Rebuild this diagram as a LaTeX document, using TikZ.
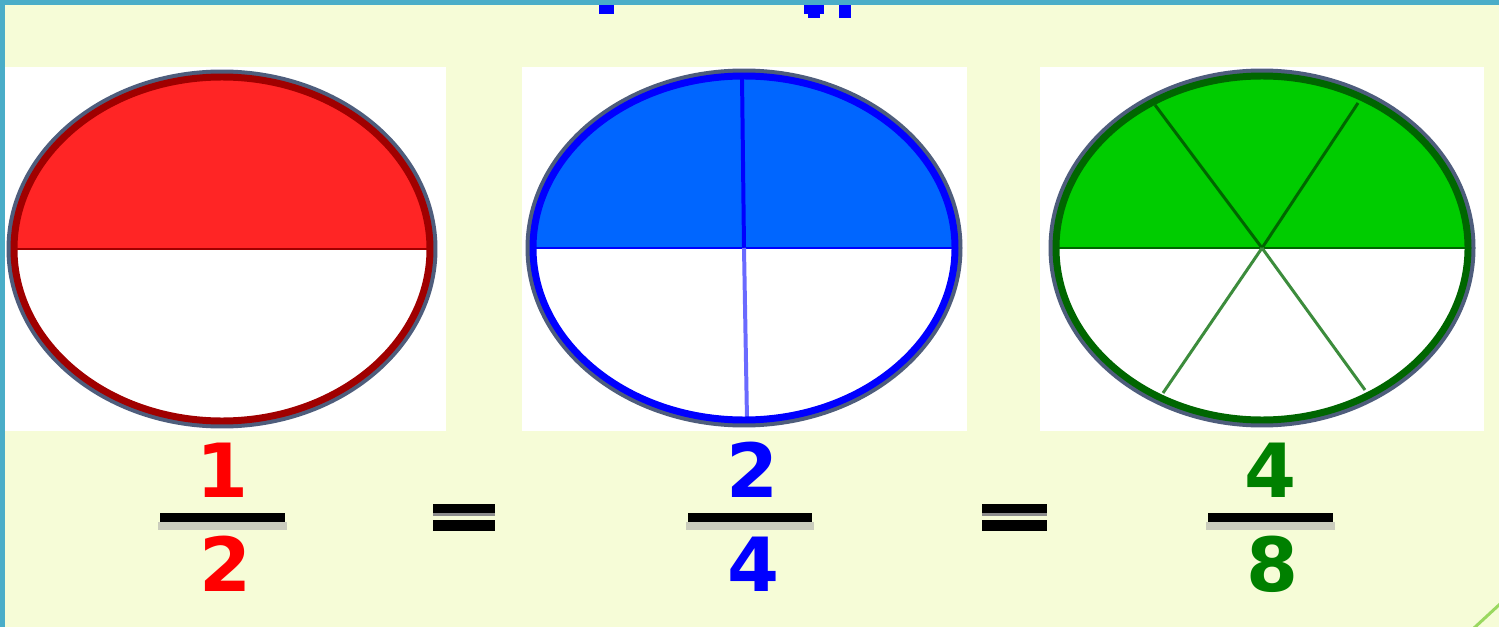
\documentclass[tikz,border=0pt]{standalone}
\usepackage{fontspec}
\usetikzlibrary{calc}
\setmainfont{DejaVu Sans}
\definecolor{bgy}{HTML}{F6FCD7}
\definecolor{teal}{HTML}{4AADC8}
\definecolor{halo}{HTML}{4E5D7C}
\definecolor{redfill}{HTML}{FF2525}
\definecolor{redline}{HTML}{A00000}
\definecolor{bluefill}{HTML}{0066FF}
\definecolor{blueline}{HTML}{0000FF}
\definecolor{bluelight}{HTML}{6A6AFF}
\definecolor{greenfill}{HTML}{00CC00}
\definecolor{greenline}{HTML}{006600}
\definecolor{greenlight}{HTML}{3C8C3C}
\definecolor{digred}{HTML}{FF0000}
\definecolor{digblue}{HTML}{0000FF}
\definecolor{diggreen}{HTML}{008000}
\definecolor{corner}{HTML}{9AD860}
\tikzset{
  digit/.style={inner sep=0pt, font=\fontsize{75}{75}\selectfont\bfseries},
  panel/.style={fill=white, draw=none},
  barshadow/.style={fill=black!35, opacity=0.55},
}
\begin{document}
\begin{tikzpicture}[x=1bp,y=-1bp]
\useasboundingbox (0,0) rectangle (1499,627);
\fill[bgy] (0,0) rectangle (1499,627);
\fill[teal] (0,0) rectangle (1499,5);
\fill[teal] (0,0) rectangle (5,627);
% cut-off blue fragments at top
\fill[blueline] (599,5) rectangle (614,14);
\fill[blueline] (804,5) rectangle (824,14);
\fill[blueline] (808,14) rectangle (820,18);
\fill[blueline] (839,5) rectangle (851,18);
% corner mark
\draw[corner, line width=3] (1474,628) -- (1500,604);
% panels
\fill[panel] (5,67) rectangle (446,431);
\fill[panel] (522,67) rectangle (967,431);
\fill[panel] (1040,67) rectangle (1484,431);

% ---- red circle 1/2
\coordinate (rc) at (222,249);
\fill[redfill] ($(rc)+(-208,0)$) arc[start angle=180, end angle=360, x radius=208, y radius=172] -- cycle;
\draw[halo, line width=5] (rc) ellipse[x radius=213, y radius=177];
\draw[redline, line width=3] ($(rc)+(-208,0)$) -- ($(rc)+(208,0)$);
\draw[redline, line width=7] (rc) ellipse[x radius=208, y radius=172];

% ---- blue circle 2/4
\coordinate (bc) at (744,248);
\fill[bluefill] ($(bc)+(-211,0)$) arc[start angle=180, end angle=360, x radius=211, y radius=172] -- cycle;
\draw[halo, line width=5] (bc) ellipse[x radius=216, y radius=177];
\draw[blueline, line width=3] ($(bc)+(-211,0)$) -- ($(bc)+(211,0)$);
\coordinate (bt) at (742,76);
\coordinate (bb) at (747,420);
\draw[blueline, line width=4] (bt) -- (bc);
\draw[bluelight, line width=4] (bc) -- (bb);
\draw[blueline, line width=7] (bc) ellipse[x radius=211, y radius=172];

% ---- green circle 4/8
\coordinate (gc) at (1262,248);
\fill[greenfill] ($(gc)+(-206,0)$) arc[start angle=180, end angle=360, x radius=206, y radius=172] -- cycle;
\draw[halo, line width=5] (gc) ellipse[x radius=211, y radius=177];
\draw[greenline, line width=3] ($(gc)+(-206,0)$) -- ($(gc)+(206,0)$);
\coordinate (g1) at (1155,105);
\coordinate (g2) at (1358,103);
\coordinate (g3) at (1163,393);
\coordinate (g4) at (1365,390);
\draw[greenline, line width=3] (gc) -- (g1);
\draw[greenline, line width=3] (gc) -- (g2);
\draw[greenlight, line width=3] (gc) -- (g3);
\draw[greenlight, line width=3] (gc) -- (g4);
\draw[greenline, line width=7] (gc) ellipse[x radius=206, y radius=172];

% ---- fractions
\node[digit, text=digred] (n1) at (222,470) {1};
\fill[barshadow] (158,522) rectangle (287,530);
\fill[black] (160,513) rectangle (285,522);
\node[digit, text=digred] (d1) at (225,564) {2};

\node[digit, text=digblue] (n2) at (752,470) {2};
\fill[barshadow] (686,522) rectangle (814,530);
\fill[black] (688,513) rectangle (812,522);
\node[digit, text=digblue] (d2) at (753,564) {4};

\node[digit, text=diggreen] (n3) at (1270,470) {4};
\fill[barshadow] (1206,522) rectangle (1335,530);
\fill[black] (1208,513) rectangle (1333,522);
\node[digit, text=diggreen] (d3) at (1272,564) {8};

% ---- equals signs
\fill[black] (433,504) rectangle (495,513);
\fill[black!45] (433,513) rectangle (495,516);
\fill[black] (433,520) rectangle (495,531);
\fill[black] (982,504) rectangle (1047,513);
\fill[black!45] (982,513) rectangle (1047,516);
\fill[black] (982,520) rectangle (1047,531);
\end{tikzpicture}
\end{document}
